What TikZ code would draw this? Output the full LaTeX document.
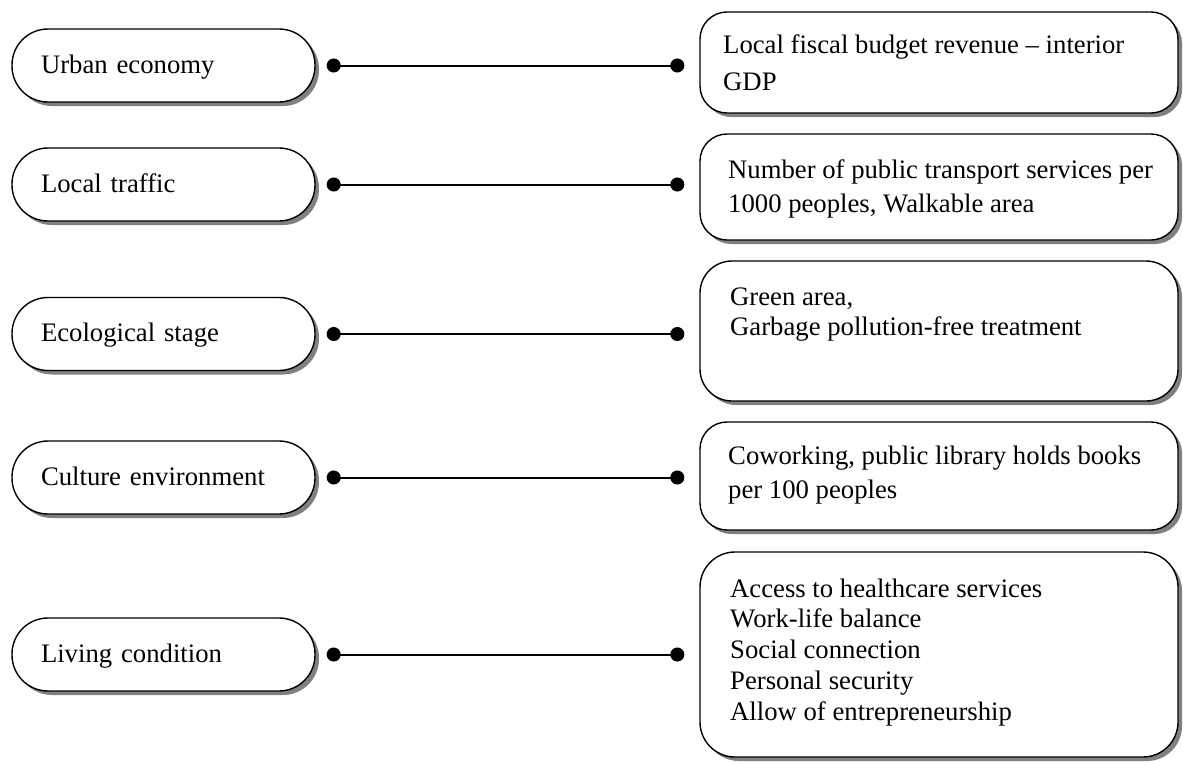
\documentclass[tikz,border=0pt]{standalone}
\usepackage{fontspec}
\setmainfont{Liberation Serif}
\usetikzlibrary{shadows,arrows.meta}
\tikzset{
  shad/.style={drop shadow={shadow xshift=4pt, shadow yshift=-4pt, opacity=1, fill=black!50}},
  lbox/.style={draw, line width=1.4pt, fill=white, shad, rounded corners=36pt,
    minimum width=303pt, minimum height=73pt, text width=245pt, inner xsep=29pt, inner ysep=0pt,
    align=left, text height=18pt, text depth=3pt, font=\fontsize{26.7}{31}\selectfont},
  rbox/.style={draw, line width=1.4pt, fill=white, shad, minimum width=478pt, inner sep=0pt},
  rtext/.style={anchor=base west, inner sep=0pt},
  conn/.style={line width=2pt, {Circle[length=14pt,width=14pt]}-{Circle[length=14pt,width=14pt]},
    shorten <=11pt, shorten >=15pt}
}
\newcommand{\rlines}[2]{\parbox[t]{440pt}{\fontsize{26.7}{#1}\selectfont\raggedright #2}}
\begin{document}
\begin{tikzpicture}[x=1pt,y=-1pt]
\useasboundingbox (0,0) rectangle (1183,761);
% left boxes
\node[lbox] (L1) at (163.5,65.5) {Urban economy};
\node[lbox] (L2) at (163.5,184.5) {Local traffic};
\node[lbox] (L3) at (163.5,334) {Ecological stage};
\node[lbox] (L4) at (163.5,477.5) {Culture environment};
\node[lbox] (L5) at (163.5,654.5) {Living condition};
% right boxes
\node[rbox, rounded corners=27pt, minimum height=101pt] (R1) at (939,62.5) {};
\node[rbox, rounded corners=27pt, minimum height=106pt] (R2) at (939,187) {};
\node[rbox, rounded corners=32pt, minimum height=140pt] (R3) at (939,331) {};
\node[rbox, rounded corners=27pt, minimum height=108pt] (R4) at (939,476) {};
\node[rbox, rounded corners=35pt, minimum height=205pt] (R5) at (939,654.5) {};
% texts
\node[rtext] (T1) at (723,53) {\rlines{37.5}{Local fiscal budget revenue -- interior\\GDP}};
\node[rtext] (T2) at (728,178) {\rlines{34}{Number of public transport services per\\1000 peoples, Walkable area}};
\node[rtext] (T3) at (730,305) {\rlines{30}{Green area,\\Garbage pollution-free treatment}};
\node[rtext] (T4) at (728,464) {\rlines{34}{Coworking, public library holds books\\per 100 peoples}};
\node[rtext] (T5) at (730,597) {\rlines{30.8}{Access to healthcare services\\Work-life balance\\Social connection\\Personal security\\Allow of entrepreneurship}};
% connectors
\draw[conn] (L1.east) -- (L1.east -| R1.west);
\draw[conn] (L2.east) -- (L2.east -| R2.west);
\draw[conn] (L3.east) -- (L3.east -| R3.west);
\draw[conn] (L4.east) -- (L4.east -| R4.west);
\draw[conn] (L5.east) -- (L5.east -| R5.west);
\end{tikzpicture}
\end{document}
